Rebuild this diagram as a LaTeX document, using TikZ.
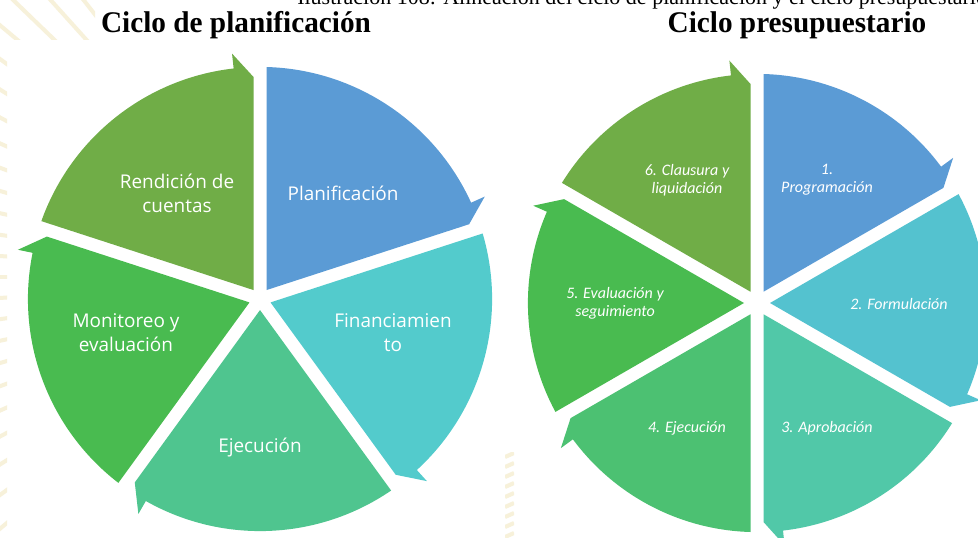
\documentclass[tikz,border=0pt]{standalone}
\usepackage{fontspec}
\setmainfont{Liberation Serif}
\newfontfamily\segfont{Open Sans}
\newfontfamily\itfont{Carlito}
\usetikzlibrary{calc}
\definecolor{cBlue}{HTML}{5B9BD5}
\definecolor{cTeal}{HTML}{53CBCC}
\definecolor{cSea}{HTML}{4FC58F}
\definecolor{cGreen}{HTML}{49BB50}
\definecolor{cOlive}{HTML}{70AD47}
\definecolor{rTeal}{HTML}{54C2CF}
\definecolor{rSea}{HTML}{51C8A8}
\definecolor{rGrass}{HTML}{4CC172}
\definecolor{cream}{HTML}{F7F1DA}
\def\sgGap{6.5}
% #1 centre, #2 tail angle, #3 head angle, #4 colour, #5 radius
\newcommand\cycseg[5]{%
  \fill[#4] ($(#1)+({(#2+#3)/2}:{\sgGap/sin((#2-#3)/2)})$)
    -- ($(#1)+(#2:#5)+({#2-90}:\sgGap)$)
    arc[start angle={#2-atan(\sgGap/#5)}, end angle={#3+6.5}, radius=#5]
    -- ($(#1)+({#3+6.5}:{#5+15})$)
    -- ($(#1)+(#3:{#5-10})+({#3+90}:\sgGap)$)
    -- cycle;}
\tikzset{
  lefttxt/.style={text=white, font=\segfont\fontsize{14.2}{18}\selectfont, align=center, inner sep=0pt},
  righttxt/.style={text=white, font=\itfont\itshape\fontsize{12}{13.5}\selectfont, align=center, inner sep=0pt},
  titletxt/.style={font=\bfseries\fontsize{22.5}{26}\selectfont, anchor=base, inner sep=0pt, xscale=0.975},
  captxt/.style={font=\fontsize{16.5}{18}\selectfont, anchor=base west, inner sep=0pt},
  wmark/.style={draw=cream, line width=3pt}
}
\begin{document}
\begin{tikzpicture}[x=0.75pt, y=0.75pt]
\useasboundingbox (0,0) rectangle (978,537);
\clip (0,0) rectangle (978,537);
\fill[white] (0,0) rectangle (978,537);
% faint background watermark
\begin{scope}
  \clip (0,0) rectangle (7,497) (0,497) rectangle (95,537);
  \foreach \a in {100,104,...,260} \draw[wmark] (300,260) -- ++(\a:420);
\end{scope}
\begin{scope}
  \clip (505,0) rectangle (514,85);
  \foreach \yy in {0,10,...,90} \draw[wmark] (505,\yy) -- ++(9,4);
\end{scope}
% caption (cut at the top)
\node[captxt] (cap) at (297,532.5) {Ilustración 108: Alineación del ciclo de planificación y el ciclo presupuestario};
% titles
\node[titletxt] (t1) at (236,504) {Ciclo de planificación};
\node[titletxt] (t2) at (797,504) {Ciclo presupuestario};
% left cycle
\coordinate (L) at (260,238);
\cycseg{L}{90}{18}{cBlue}{232}
\cycseg{L}{18}{-54}{cTeal}{232}
\cycseg{L}{-54}{-126}{cSea}{232}
\cycseg{L}{-126}{-198}{cGreen}{232}
\cycseg{L}{162}{90}{cOlive}{232}
\node[lefttxt] (l1) at (343,344) {Planificación};
\node[lefttxt] (l2) at (393,204) {Financiamien\\to};
\node[lefttxt] (l3) at (260,89) {Ejecución};
\node[lefttxt] (l4) at (126,204) {Monitoreo y\\evaluación};
\node[lefttxt] (l5) at (177,344) {Rendición de\\cuentas};
% right cycle
\coordinate (R) at (757,234);
\cycseg{R}{90}{30}{cBlue}{229}
\cycseg{R}{30}{-30}{rTeal}{229}
\cycseg{R}{-30}{-90}{rSea}{229}
\cycseg{R}{-90}{-150}{rGrass}{229}
\cycseg{R}{-150}{-210}{cGreen}{229}
\cycseg{R}{150}{90}{cOlive}{229}
\node[righttxt] (r1) at (827,357) {1.\\Programación};
\node[righttxt] (r2) at (899,233) {2. Formulación};
\node[righttxt] (r3) at (827,109) {3. Aprobación};
\node[righttxt] (r4) at (687,109) {4. Ejecución};
\node[righttxt] (r5) at (615,234) {5. Evaluación y\\seguimiento};
\node[righttxt] (r6) at (687,357) {6. Clausura y\\liquidación};
\end{tikzpicture}
\end{document}
